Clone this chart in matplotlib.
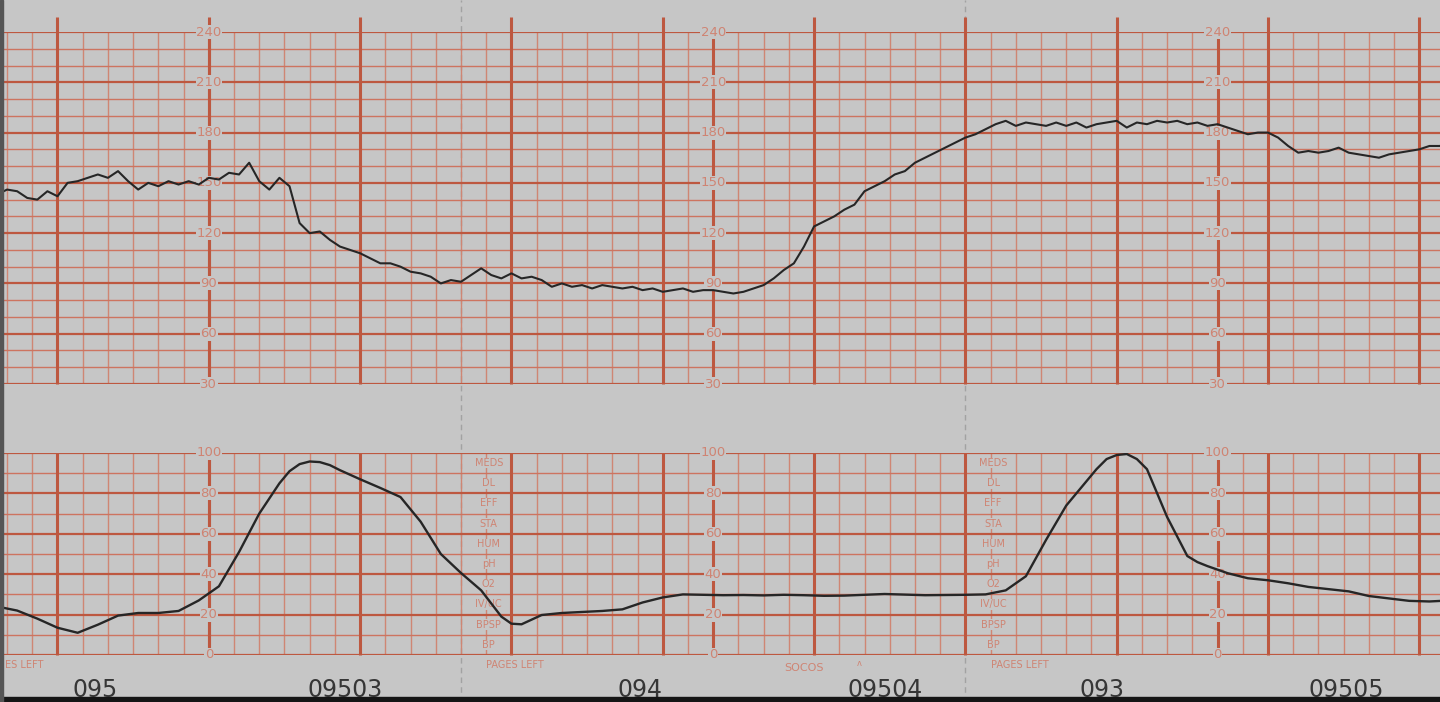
import numpy as np
import matplotlib.pyplot as plt
from matplotlib.transforms import blended_transform_factory

# FHR trace (bpm), one reading every 4 s
fhr_t = np.arange(-24, 553, 4)
fhr = [143, 146, 145, 141, 140, 145,
       142, 150, 151, 153, 155, 153,
       157, 151, 146, 150, 148, 151,
       149, 151, 149, 153, 152, 156,
       155, 162, 151, 146, 153, 148,
       126, 120, 121, 116, 112, 110,
       108, 105, 102, 102, 100, 97,
       96, 94, 90, 92, 91, 95,
       99, 95, 93, 96, 93, 94,
       92, 88, 90, 88, 89, 87,
       89, 88, 87, 88, 86, 87,
       85, 86, 87, 85, 86, 86,
       85, 84, 85, 87, 89, 93,
       98, 102, 112, 124, 127, 130,
       134, 137, 145, 148, 151, 155,
       157, 162, 165, 168, 171, 174,
       177, 179, 182, 185, 187, 184,
       186, 185, 184, 186, 184, 186,
       183, 185, 186, 187, 183, 186,
       185, 187, 186, 187, 185, 186,
       184, 185, 183, 181, 179, 180,
       180, 177, 172, 168, 169, 168,
       169, 171, 168, 167, 166, 165,
       167, 168, 169, 170, 172, 172,
       173]

# uterine activity, one reading every 8 s (a few extra around the peaks)
ua_t = [-24, -16, -8, 0, 8, 16, 24, 32, 40, 48,
        56, 64, 72, 80, 88, 92, 96, 100, 104, 108, 112, 120, 128,
        136, 144, 152, 160, 168, 176, 180, 184, 188, 192, 200, 208,
        216, 224, 232, 240, 248, 256, 264, 272, 280, 288,
        296, 304, 312, 320, 328, 336, 344, 352, 360, 368,
        376, 384, 392, 400, 408, 412, 416, 420, 424, 428, 432, 440, 448, 452,
        456, 464, 472, 480, 488, 496, 504, 512, 520, 528,
        536, 544, 552]
ua = [24, 22, 18, 13.5, 11, 15, 19.5, 20.8, 20.8, 21.8,
      27, 34, 51, 70, 85, 91, 94.5, 95.8, 95.5, 94, 91.5, 87, 82.7,
      78.2, 66, 50, 40.6, 32, 19, 15.5, 15.2, 17.5, 19.8, 20.8, 21.3,
      21.8, 22.6, 26, 28.5, 30, 29.8, 29.6, 29.7, 29.5, 29.8,
      29.6, 29.3, 29.4, 29.8, 30.2, 29.9, 29.6, 29.7, 29.8, 30,
      32, 39, 57, 74, 86, 92, 97, 99, 99.5, 97, 92, 68.3, 49, 46,
      44, 40.5, 38, 37, 35.5, 33.7, 32.6, 31.5, 29.2, 28,
      26.8, 26.5, 27]

fhr_labels = [240, 210, 180, 150, 120, 90, 60, 30]
ua_labels = [100, 80, 60, 40, 20, 0]
label_cols = [60, 260, 460]
page_lines = [160, 360]
page_nums = ['095', '094', '093']
page_num_t = [15, 231, 414]
clock = ['09503', '09504', '09505']
clock_t = [114, 328, 511]
side_rows = ['MEDS', 'DL', 'EFF', 'STA', 'HUM', 'pH', 'O2', 'IV/UC', 'BPSP', 'BP']
side_cols = [171, 371]
pages_left = ['ES LEFT', 'PAGES LEFT', 'PAGES LEFT']
pages_left_t = [-21, 170, 370]

PAPER = '#c6c6c6'
MAJOR = '#bd5840'
MINOR = '#cf8674'
HLINE = '#cd7460'
TEXT_RED = '#cf8473'
INK = '#262626'

xlim = (-22.8, 548.2)

fig = plt.figure(figsize=(14.4, 7.02), dpi=100, facecolor=PAPER)
ax1 = fig.add_axes([0, 1 - 384 / 702, 1, 352 / 702])
ax2 = fig.add_axes([0, 1 - 655 / 702, 1, 202 / 702])


def draw_grid(ax, lo, hi, step, heavy, labels, ext):
    ax.set_xlim(*xlim)
    ax.set_ylim(lo, hi)
    ax.axis('off')
    ax.patch.set_alpha(0)
    minors = [t for t in range(-20, 560, 10) if t % 60 != 0]
    majors = list(range(0, 560, 60))
    ax.vlines(minors, lo, hi, color=MINOR, lw=1.0, zorder=1)
    ax.vlines(majors, lo, hi + ext, color=MAJOR, lw=2.2, zorder=2, clip_on=False)
    for v in range(lo, hi + 1, step):
        w = 1.6 if v % heavy == 0 else 1.0
        c = MAJOR if v % heavy == 0 else HLINE
        ax.axhline(v, color=c, lw=w, zorder=1)
    ax.vlines(label_cols, lo, hi, color=MAJOR, lw=2.2, zorder=2)
    for c in label_cols:
        for v in labels:
            ax.text(c, v, str(v), ha='center', va='center', fontsize=9.5,
                    color=TEXT_RED, zorder=3,
                    bbox=dict(facecolor=PAPER, edgecolor='none', pad=0.4))


draw_grid(ax1, 30, 240, 10, 30, fhr_labels, 9)
draw_grid(ax2, 0, 100, 10, 20, ua_labels, 0)

ax1.plot(fhr_t, fhr, color=INK, lw=1.5, zorder=5)
ax2.plot(ua_t, ua, color=INK, lw=1.7, zorder=5, solid_joinstyle='round')

# side annotation columns in the UA panel
for c in side_cols:
    for i, s in enumerate(side_rows):
        ax2.text(c, 95 - 10 * i, s, ha='center', va='center', fontsize=7,
                 color=TEXT_RED, zorder=3,
                 bbox=dict(facecolor=PAPER, edgecolor='none', pad=0.3))

# page fold lines
bt = blended_transform_factory(ax1.transData, fig.transFigure)
for p in page_lines:
    fig.add_artist(plt.Line2D([p, p], [0, 1], transform=bt, color='#a2a2a2',
                              lw=1, ls=(0, (4, 3)), zorder=-1))

bt2 = blended_transform_factory(ax2.transData, fig.transFigure)
for p, s in zip(pages_left_t, pages_left):
    fig.text(p, 1 - 665 / 702, s, transform=bt2, fontsize=7,
             color=TEXT_RED, ha='left', va='center')
fig.text(296, 1 - 668 / 702, 'SOCOS', transform=bt2, fontsize=8,
         color=TEXT_RED, ha='center', va='center')
fig.text(318, 1 - 664 / 702, 'ʌ', transform=bt2, fontsize=6,
         color=TEXT_RED, ha='center', va='center')

for t, s in zip(page_num_t + clock_t, page_nums + clock):
    fig.text(t, 1 - 690 / 702, s, transform=bt2, fontsize=17, color='#363636',
             ha='center', va='center')

# scan edges
fig.add_artist(plt.Rectangle((0, 0), 1, 5 / 702, transform=fig.transFigure,
                             color='#151515', zorder=10))
fig.add_artist(plt.Rectangle((0, 0), 3 / 1440, 1, transform=fig.transFigure,
                             color='#555555', zorder=10))

fig.savefig('out.png', dpi=100, facecolor=PAPER)
